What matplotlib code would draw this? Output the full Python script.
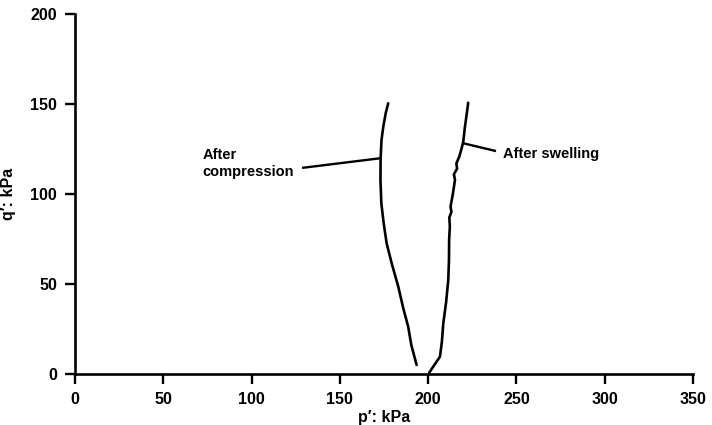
import matplotlib.pyplot as plt

plt.rcParams['font.family'] = ['Liberation Sans', 'DejaVu Sans']

# After compression path (p', q) in kPa
comp_p = [193.5, 190.5, 188.7, 185.8, 183.1, 179.5, 176.5, 174.8, 173.5, 173.0, 173.1, 173.6, 174.6, 176.0, 177.4]
comp_q = [5, 16, 26.3, 37, 48.5, 61, 72.6, 84, 94.8, 108, 119.8, 130, 137.4, 145, 150.4]

# After swelling path
swell_p = [200.6, 203.5, 206.7, 207.8, 208.6, 210.2, 211.4, 211.8, 211.9, 212.3, 212.0, 213.2, 212.7,
           214.0, 215.2, 214.6, 216.4, 216.0, 217.6, 218.6, 219.9, 220.8, 221.8, 222.7]
swell_q = [0.7, 5, 9.6, 18, 28.2, 40, 52.2, 63, 74.4, 82, 87, 90, 93,
           100, 107.8, 111, 114, 117, 120.7, 124, 129, 137, 144, 150.7]

fig = plt.figure(figsize=(7.12, 4.25), dpi=100)
ax = fig.add_axes([0.1053, 0.12, 0.868, 0.847])

ax.plot(comp_p, comp_q, color='black', linewidth=1.9, solid_capstyle='round')
ax.plot(swell_p, swell_q, color='black', linewidth=1.9, solid_capstyle='round')

# leader lines + labels
ax.plot([129.3, 172.3], [114.6, 119.8], color='black', linewidth=1.7)
ax.text(72.3, 117, "After\ncompression", fontsize=10.5, fontweight='bold',
        ha='left', va='center', linespacing=1.2)
ax.plot([219.9, 237.8], [128.2, 124.0], color='black', linewidth=1.7)
ax.text(242.2, 122.2, "After swelling", fontsize=10.5, fontweight='bold',
        ha='left', va='center')

ax.set_xlim(0, 350)
ax.set_ylim(0, 200)
ax.set_xticks(range(0, 351, 50))
ax.set_yticks(range(0, 201, 50))
ax.tick_params(direction='out', length=7, width=1.7, labelsize=11.5, pad=6)
for lbl in ax.get_xticklabels() + ax.get_yticklabels():
    lbl.set_fontweight('bold')

for side in ['top', 'right']:
    ax.spines[side].set_visible(False)
for side in ['left', 'bottom']:
    ax.spines[side].set_linewidth(1.9)

ax.set_xlabel("p\u2032: kPa", fontsize=11.5, fontweight='bold', labelpad=2)
ax.set_ylabel("q\u2032: kPa", fontsize=11.5, fontweight='bold', labelpad=10)

fig.savefig("out.png", dpi=100)
